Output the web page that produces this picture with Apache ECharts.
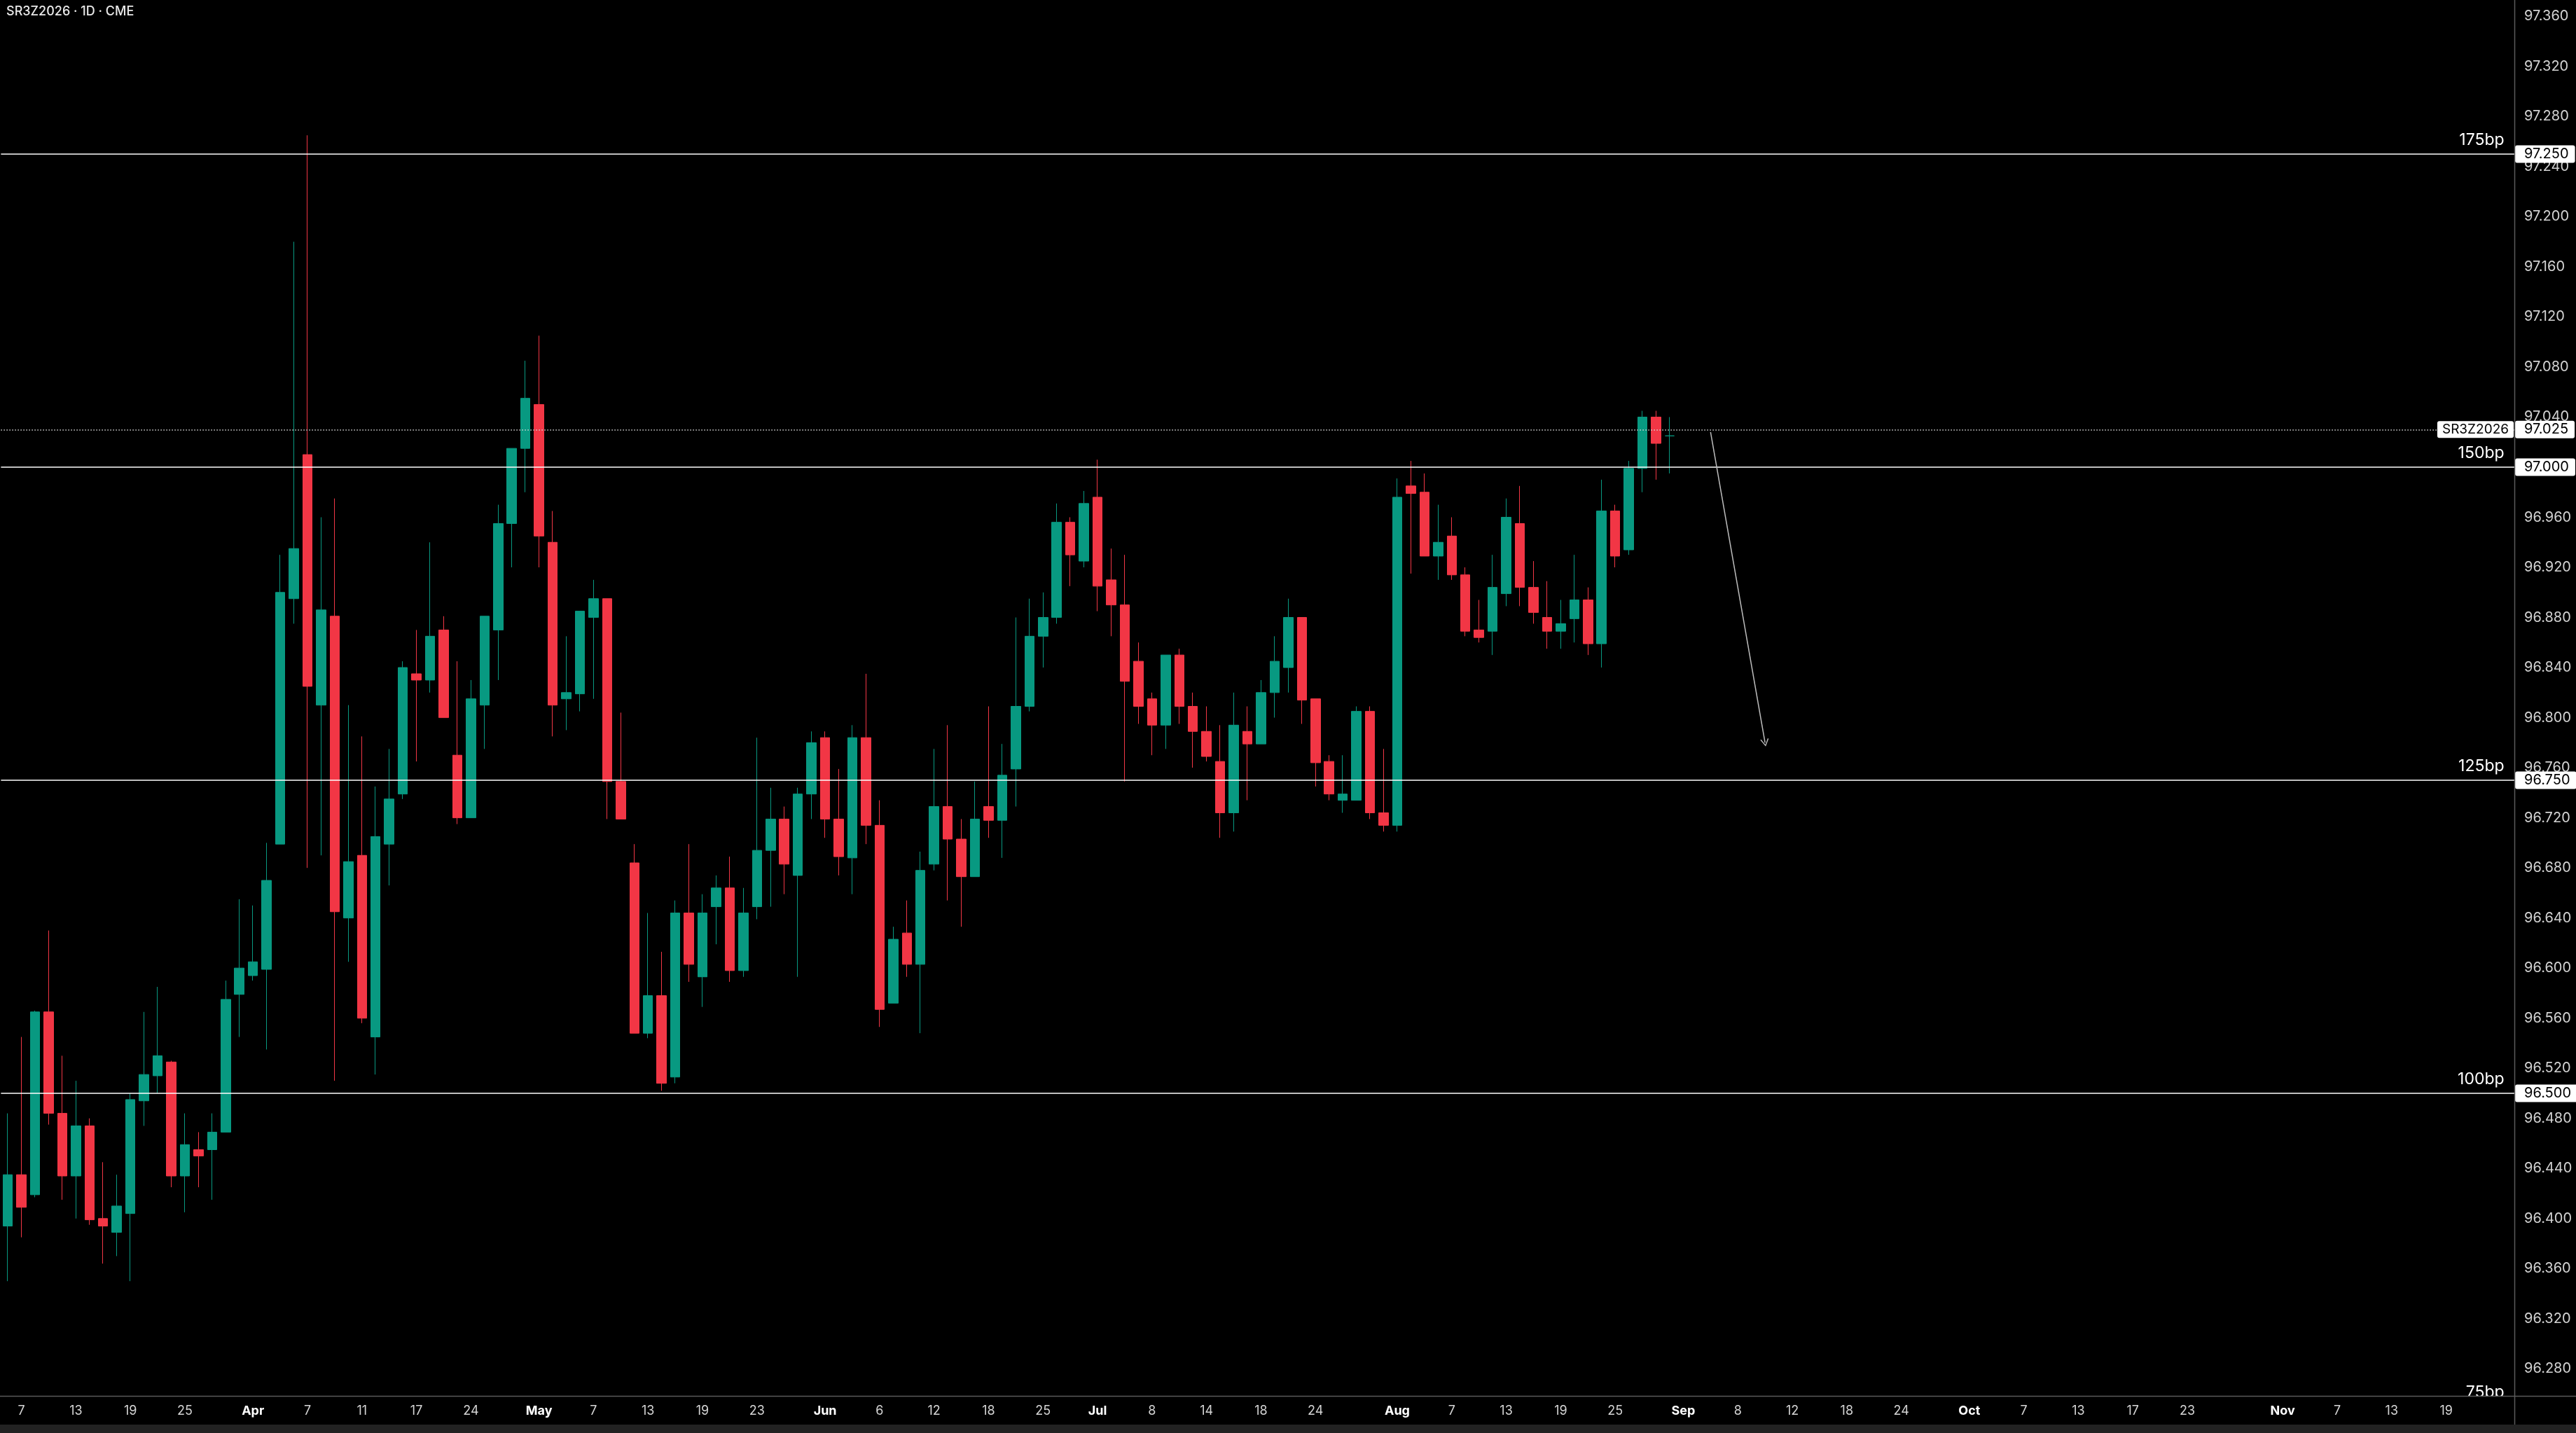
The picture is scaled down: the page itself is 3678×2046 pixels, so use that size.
<!DOCTYPE html>
<html><head><meta charset="utf-8">
<script src="https://cdn.jsdelivr.net/npm/echarts@6/dist/echarts.min.js"></script>
<style>html,body{margin:0;padding:0;background:#000;}#c{width:3678px;height:2046px;}</style>
</head><body><div id="c"></div>
<script>
// ---------- DATA ----------
const holidays = ['2025-04-18','2025-05-26','2025-06-19','2025-07-04','2025-09-01','2025-11-27'];
function tradingDays(start, end) {
  const out = [];
  const d = new Date(start + 'T00:00:00Z');
  const e = new Date(end + 'T00:00:00Z');
  while (d <= e) {
    const wd = d.getUTCDay();
    const s = d.toISOString().slice(0, 10);
    if (wd !== 0 && wd !== 6 && holidays.indexOf(s) < 0) out.push(s);
    d.setUTCDate(d.getUTCDate() + 1);
  }
  return out;
}
const categories = tradingDays('2025-03-06', '2025-11-26');

const opens = [
 96.394,96.435,96.419,96.565,96.484,96.434,96.474,96.400,96.389,96.404,96.494,96.514,96.525,96.434,96.455,96.455,96.469,96.579,
 96.594,96.599,96.699,96.895,97.010,96.810,96.881,96.640,96.690,96.545,96.699,96.739,96.835,96.830,96.870,96.770,96.720,96.810,96.870,96.955,97.015,
 97.050,96.940,96.815,96.819,96.880,96.895,96.749,96.684,96.548,96.578,96.513,96.644,96.593,96.649,96.664,96.598,96.649,96.694,96.719,96.674,96.739,
 96.784,96.719,96.688,96.784,96.714,96.572,96.628,96.603,96.683,96.729,96.703,96.673,96.729,96.718,96.759,96.809,96.865,96.880,96.956,96.925,
 96.976,96.910,96.890,96.845,96.815,96.794,96.850,96.809,96.789,96.765,96.724,96.789,96.779,96.820,96.840,96.880,96.815,96.765,96.734,96.734,96.805,96.724,
 96.714,96.985,96.980,96.929,96.945,96.914,96.870,96.869,96.899,96.955,96.904,96.880,96.869,96.879,96.894,96.859,96.965,96.934,96.999,97.040,97.025
];
const closes = [
 96.435,96.409,96.565,96.484,96.434,96.474,96.399,96.394,96.410,96.495,96.515,96.530,96.434,96.459,96.450,96.469,96.575,96.600,
 96.605,96.670,96.900,96.935,96.825,96.886,96.645,96.685,96.560,96.705,96.735,96.840,96.830,96.865,96.800,96.720,96.815,96.881,96.955,97.015,97.055,
 96.945,96.810,96.820,96.885,96.895,96.749,96.719,96.548,96.578,96.508,96.644,96.603,96.644,96.664,96.598,96.644,96.694,96.719,96.683,96.739,96.780,
 96.719,96.689,96.784,96.714,96.567,96.623,96.603,96.678,96.729,96.703,96.673,96.719,96.718,96.754,96.809,96.865,96.880,96.956,96.930,96.971,
 96.905,96.890,96.829,96.809,96.794,96.850,96.809,96.789,96.769,96.724,96.794,96.779,96.820,96.845,96.880,96.814,96.764,96.739,96.739,96.805,96.724,96.714,
 96.976,96.979,96.929,96.940,96.914,96.869,96.864,96.904,96.960,96.904,96.884,96.869,96.875,96.894,96.859,96.965,96.929,96.999,97.040,97.019,97.025
];
const lows = [
 96.350,96.385,96.417,96.475,96.415,96.400,96.395,96.364,96.370,96.350,96.474,96.500,96.425,96.405,96.425,96.415,96.469,96.545,
 96.590,96.535,96.699,96.875,96.680,96.690,96.510,96.605,96.556,96.515,96.666,96.735,96.765,96.820,96.800,96.715,96.720,96.775,96.830,96.920,96.980,
 96.920,96.785,96.790,96.805,96.815,96.719,96.719,96.548,96.544,96.502,96.508,96.589,96.569,96.619,96.589,96.593,96.639,96.649,96.659,96.593,96.719,
 96.704,96.674,96.659,96.699,96.553,96.572,96.593,96.548,96.678,96.654,96.633,96.673,96.704,96.688,96.729,96.805,96.840,96.875,96.905,96.920,
 96.885,96.865,96.749,96.795,96.770,96.775,96.795,96.760,96.765,96.704,96.709,96.734,96.779,96.800,96.820,96.795,96.745,96.734,96.724,96.734,96.719,96.709,
 96.709,96.915,96.929,96.910,96.910,96.865,96.860,96.850,96.889,96.889,96.875,96.855,96.855,96.860,96.850,96.840,96.920,96.930,96.980,96.990,96.995
];
const highs = [
 96.484,96.545,96.566,96.630,96.530,96.510,96.480,96.445,96.435,96.500,96.565,96.585,96.526,96.484,96.469,96.484,96.590,96.655,
 96.650,96.700,96.930,97.180,97.265,96.960,96.975,96.810,96.785,96.745,96.775,96.845,96.870,96.940,96.881,96.845,96.830,96.881,96.970,97.015,97.085,
 97.105,96.965,96.865,96.885,96.910,96.895,96.804,96.699,96.644,96.613,96.654,96.699,96.659,96.674,96.689,96.664,96.784,96.744,96.729,96.744,96.789,
 96.789,96.759,96.794,96.835,96.734,96.633,96.654,96.693,96.775,96.794,96.719,96.749,96.809,96.779,96.880,96.895,96.900,96.971,96.960,96.981,
 97.006,96.935,96.930,96.860,96.820,96.850,96.855,96.820,96.809,96.794,96.820,96.809,96.830,96.865,96.895,96.880,96.815,96.770,96.770,96.809,96.809,96.775,
 96.991,97.005,96.995,96.970,96.960,96.920,96.894,96.930,96.975,96.985,96.925,96.909,96.894,96.930,96.904,96.990,96.970,97.005,97.045,97.045,97.040
];

const tickDates = ['2025-03-07','2025-03-13','2025-03-19','2025-03-25','2025-04-01','2025-04-07','2025-04-11','2025-04-17','2025-04-24',
 '2025-05-01','2025-05-07','2025-05-13','2025-05-19','2025-05-23','2025-06-02','2025-06-06','2025-06-12','2025-06-18','2025-06-25',
 '2025-07-01','2025-07-08','2025-07-14','2025-07-18','2025-07-24','2025-08-01','2025-08-07','2025-08-13','2025-08-19','2025-08-25',
 '2025-09-02','2025-09-08','2025-09-12','2025-09-18','2025-09-24','2025-10-01','2025-10-07','2025-10-13','2025-10-17','2025-10-23',
 '2025-11-03','2025-11-07','2025-11-13','2025-11-19'];
const tickLabels = ['7','13','19','25','Apr','7','11','17','24','May','7','13','19','23','Jun','6','12','18','25',
 'Jul','8','14','18','24','Aug','7','13','19','25','Sep','8','12','18','24','Oct','7','13','17','23','Nov','7','13','19'];
const monthLabels = ['Apr','May','Jun','Jul','Aug','Sep','Oct','Nov'];

const levelValues = [97.25, 96.9972, 96.7483, 96.5, 96.25];
const levelTexts = ['175bp', '150bp', '125bp', '100bp', '75bp'];
const levelBoxes = ['97.250', '97.000', '96.750', '96.500', null];

const lastPrice = 97.025;
const lastPriceText = '97.025';
const symbolName = 'SR3Z2026';
const arrowStart = ['2025-09-04', 97.028];
const arrowEnd = ['2025-09-10', 96.780];

// ---------- CHART ----------
const FONT = 'Inter, "Noto Sans", sans-serif';
const ohlc = opens.map((o, i) => [o, closes[i], lows[i], highs[i]]);
const tickMap = {};
tickDates.forEach((d, i) => { tickMap[d] = tickLabels[i]; });

const boxLabel = (text) => ({
  show: true, position: 'end', distance: -8.6, formatter: text,
  color: '#000', backgroundColor: '#ffffff', fontSize: 20, fontFamily: FONT,
  padding: [3, 9, 2, 13], borderRadius: 3, opacity: 1
});
const hiddenLine = { color: 'rgba(0,0,0,0)', width: 0, opacity: 1 };

const markData = [];
const boxData = [];
levelValues.forEach((v, i) => {
  markData.push({
    yAxis: v,
    lineStyle: { color: '#ffffff', width: 1.5, type: 'solid', opacity: 1 },
    label: { show: true, position: 'insideEndTop', distance: [24, 8], formatter: levelTexts[i],
      color: '#ffffff', fontSize: 23, fontFamily: FONT }
  });
  if (levelBoxes[i]) {
    boxData.push({ yAxis: v, lineStyle: hiddenLine, label: boxLabel(levelBoxes[i]) });
  }
});
markData.push({
  yAxis: lastPrice,
  lineStyle: { color: '#d8d8d8', width: 1.5, type: [1.5, 2.5] },
  label: { show: true, position: 'insideEnd', distance: [10.6, 0], formatter: symbolName,
    color: '#000', backgroundColor: '#ffffff', fontSize: 19, fontFamily: FONT,
    padding: [3, 7, 2, 7], borderRadius: 3 }
});
boxData.push({ yAxis: lastPrice, lineStyle: hiddenLine, label: boxLabel(lastPriceText) });
markData.push([
  { coord: arrowStart, symbol: 'none' },
  { coord: arrowEnd, symbol: 'path://M0,10 L5,0 L10,10 L9,10.9 L5,2.6 L1,10.9 Z', symbolSize: [12, 11],
    lineStyle: { color: '#bdbdbd', width: 1.5, type: 'solid' }, label: { show: false } }
]);

const chart = echarts.init(document.getElementById('c'), null, { renderer: 'canvas' });
chart.setOption({
  backgroundColor: '#000000',
  animation: false,
  grid: { left: 1.375, right: 78.4, top: -48.2, bottom: 20.12, containLabel: false, outerBoundsMode: 'none' },
  xAxis: {
    type: 'category', data: categories, boundaryGap: true, position: 'bottom', offset: -32.9, z: 100,
    axisLine: { show: false }, axisTick: { show: false }, splitLine: { show: false },
    axisLabel: {
      margin: 13, fontSize: 18, color: '#d4d4d4', fontFamily: FONT,
      interval: (idx, val) => tickMap[val] !== undefined,
      formatter: (val) => {
        const t = tickMap[val];
        if (t === undefined) return '';
        return monthLabels.indexOf(t) >= 0 ? '{b|' + t + '}' : t;
      },
      rich: { b: { fontWeight: 'bold', color: '#ffffff', fontSize: 18, fontFamily: FONT } }
    }
  },
  yAxis: {
    type: 'value', position: 'right', offset: -9.6, min: 96.24, max: 97.40, interval: 0.04, scale: true,
    axisLine: { show: false }, axisTick: { show: false }, splitLine: { show: false },
    axisLabel: { margin: 14, fontSize: 20, color: '#d2d2d2', fontFamily: FONT, showMinLabel: false, showMaxLabel: false,
      formatter: (v) => v.toFixed(3) }
  },
  series: [{
    type: 'candlestick', data: ohlc, barWidth: 14, clip: false,
    itemStyle: { color: '#089981', color0: '#F23645', borderColor: '#089981', borderColor0: '#F23645', borderWidth: 1 },
    markLine: { silent: true, animation: false, symbol: ['none', 'none'], data: markData }
  }, {
    type: 'line', data: [], silent: true, clip: false,
    markLine: { silent: true, animation: false, symbol: ['none', 'none'], z: 6, data: boxData }
  }],
  graphic: [
    { type: 'rect', z: 50, silent: true, shape: { x: 0, y: 1994, width: 3678, height: 40 }, style: { fill: '#000000' } },
    { type: 'rect', z: 60, silent: true, shape: { x: 0, y: 2034, width: 3678, height: 12 }, style: { fill: '#222222' } },
    { type: 'line', z: 60, silent: true, shape: { x1: 0, y1: 1993.5, x2: 3678, y2: 1993.5 }, style: { stroke: '#5a5a5a', lineWidth: 1.5 } },
    { type: 'line', z: 60, silent: true, shape: { x1: 3590.5, y1: 0, x2: 3590.5, y2: 2034 }, style: { stroke: '#5a5a5a', lineWidth: 1.5 } },
    { type: 'text', z: 60, silent: true, style: { x: 9, y: 8, text: 'SR3Z2026 · 1D · CME', fill: '#e8e8e8', font: '500 18px Inter, sans-serif' } }
  ]
});
</script></body></html>
